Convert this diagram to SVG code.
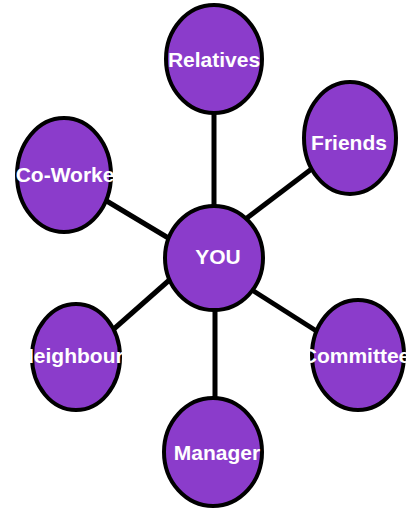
<svg xmlns="http://www.w3.org/2000/svg" width="412" height="508" viewBox="0 0 412 508">
<style>
.n{fill:#8b3ccb;stroke:#000;stroke-width:4}
.t{fill:#fff;font-family:"Liberation Sans",Arial,sans-serif;font-weight:bold;font-size:21px;text-anchor:middle}
.c{stroke:#000;stroke-width:5;fill:none}
</style>
<rect width="412" height="508" fill="#fff"/>
<g id="connectors">
<line class="c" x1="214" y1="100" x2="214" y2="230"/>
<line class="c" x1="214" y1="243" x2="330" y2="155"/>
<line class="c" x1="80" y1="185" x2="200" y2="257"/>
<line class="c" x1="230" y1="276" x2="340" y2="346"/>
<line class="c" x1="200" y1="253" x2="90" y2="350"/>
<line class="c" x1="215" y1="290" x2="215" y2="420"/>
</g>
<g id="relatives"><ellipse class="n" cx="214" cy="59" rx="48" ry="54"/><text class="t" x="214" y="67">Relatives</text></g>
<g id="friends"><ellipse class="n" cx="350" cy="138" rx="46" ry="56"/><text class="t" x="349" y="150">Friends</text></g>
<g id="coworkers"><ellipse class="n" cx="64" cy="175" rx="47" ry="57"/><text class="t" x="75" y="182">Co-Workers</text></g>
<g id="you"><ellipse class="n" cx="214" cy="258" rx="49" ry="52"/><text class="t" x="218" y="264">YOU</text></g>
<g id="committee"><ellipse class="n" cx="358" cy="355" rx="46" ry="55"/><text class="t" x="356" y="363">Committee</text></g>
<g id="neighbours"><ellipse class="n" cx="76" cy="357" rx="44" ry="53"/><text class="t" x="77" y="363">Neighbours</text></g>
<g id="manager"><ellipse class="n" cx="213" cy="452" rx="49" ry="54"/><text class="t" x="217" y="460">Manager</text></g>
</svg>
